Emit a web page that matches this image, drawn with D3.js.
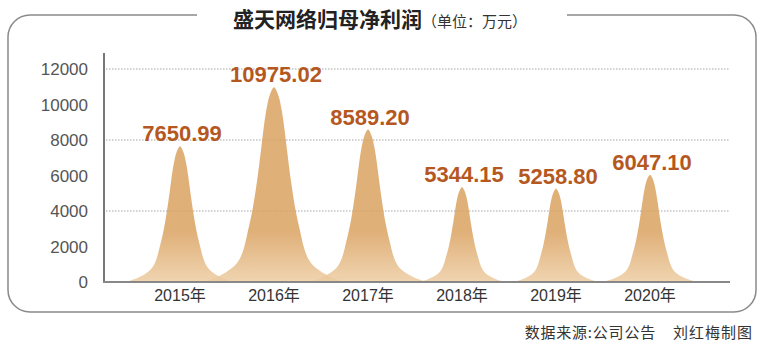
<!DOCTYPE html>
<html lang="zh">
<head>
    <meta charset="UTF-8">
    <title>盛天网络归母净利润</title>
    <script src="https://d3js.org/d3.v7.min.js"></script>
    <style>
        body { margin: 0; background: #fff; }
        svg { display: block; }
        text { font-family: "Liberation Sans", "Noto Sans CJK SC", sans-serif; }
        .cjk { font-family: "Noto Sans CJK SC", sans-serif; }
    </style>
</head>
<body>
<svg id="canvas" width="775" height="355"></svg>
<script>
// data
let years = ['2015年', '2016年', '2017年', '2018年', '2019年', '2020年']
let profits = [7650.99, 10975.02, 8589.20, 5344.15, 5258.80, 6047.10]
let profitLabels = ['7650.99', '10975.02', '8589.20', '5344.15', '5258.80', '6047.10']
let yTicks = [0, 2000, 4000, 6000, 8000, 10000, 12000]
let gridTicks = [4000, 8000, 12000]

let svg = d3.select('#canvas')

let y = d3.scaleLinear().domain([0, 12000]).range([282, 69])
let x = d3.scalePoint().domain(years).range([180, 650])
// half width of the peak base grows with the value
let halfW = d3.scaleLinear().domain([0, 12000]).range([18, 75.5])

// left half of the peak outline, normalised (u = -1..0, v = 0..1)
let peakShape = [[-1, 0], [-0.78, 0.03], [-0.6, 0.07], [-0.5, 0.11], [-0.43, 0.17],
    [-0.37, 0.26], [-0.3, 0.38], [-0.24, 0.52], [-0.19, 0.66], [-0.15, 0.78],
    [-0.11, 0.88], [-0.06, 0.96], [0, 1]]

let line = d3.line().curve(d3.curveCatmullRom.alpha(0.5))

let peakPath = (cx, value) => {
    let h = y(0) - y(value)
    let w = halfW(value)
    let left = peakShape.map(p => [cx + p[0] * w, y(0) - p[1] * h])
    let right = peakShape.slice(0, -1).reverse().map(p => [cx - p[0] * w, y(0) - p[1] * h])
    return line(left.concat(right)) + 'Z'
}

// frame with a gap for the title
svg.append('path')
   .attr('d', 'M197,15 H30 A22,22 0 0 0 8,37 V290 A22,22 0 0 0 30,312 H734 A22,22 0 0 0 756,290 V37 A22,22 0 0 0 734,15 H567')
   .attr('fill', 'none')
   .attr('stroke', '#8a8a8a')
   .attr('stroke-width', 1.5)

let title = svg.append('text')
   .attr('class', 'cjk')
   .attr('x', 233)
   .attr('y', 27)
   .attr('fill', '#222')
title.append('tspan')
   .attr('font-size', 21)
   .attr('font-weight', 'bold')
   .text('盛天网络归母净利润')
title.append('tspan')
   .attr('font-size', 15)
   .attr('fill', '#333')
   .text('（单位：万元）')

// gradient
let grad = svg.append('defs').append('linearGradient')
   .attr('id', 'peakFill')
   .attr('gradientUnits', 'userSpaceOnUse')
   .attr('x1', 0).attr('y1', y(0))
   .attr('x2', 0).attr('y2', y(0) - 50)
grad.append('stop').attr('offset', '0%').attr('stop-color', '#EDCDA3')
grad.append('stop').attr('offset', '100%').attr('stop-color', '#DAA261')

// dotted gridlines
svg.selectAll('.grid')
   .data(gridTicks)
   .enter()
   .append('line')
   .attr('class', 'grid')
   .attr('x1', 106).attr('x2', 730)
   .attr('y1', d => y(d)).attr('y2', d => y(d))
   .attr('stroke', '#a5a5a5')
   .attr('stroke-width', 1)
   .attr('stroke-dasharray', '1.5,1.5')

// y tick labels
svg.selectAll('.ytick')
   .data(yTicks)
   .enter()
   .append('text')
   .attr('class', 'ytick')
   .attr('x', 88)
   .attr('y', d => y(d))
   .attr('dy', '0.36em')
   .attr('text-anchor', 'end')
   .attr('font-size', 17)
   .attr('fill', '#555')
   .text(d => d)

// peaks
svg.selectAll('.peak')
   .data(profits)
   .enter()
   .append('path')
   .attr('class', 'peak')
   .attr('d', (d, i) => peakPath(x(years[i]), d))
   .attr('fill', 'url(#peakFill)')
   .attr('fill-opacity', 0.85)

// axes lines
svg.append('line')
   .attr('x1', 104).attr('x2', 104)
   .attr('y1', 53).attr('y2', y(0) + 1)
   .attr('stroke', '#777')
   .attr('stroke-width', 2)
svg.append('line')
   .attr('x1', 103).attr('x2', 730)
   .attr('y1', y(0)).attr('y2', y(0))
   .attr('stroke', '#888')
   .attr('stroke-width', 2)

// value labels
svg.selectAll('.val')
   .data(profits)
   .enter()
   .append('text')
   .attr('class', 'val')
   .attr('x', (d, i) => x(years[i]) + 2)
   .attr('y', d => y(d) - 5)
   .attr('text-anchor', 'middle')
   .attr('font-size', 22)
   .attr('font-weight', 'bold')
   .attr('fill', '#B5581F')
   .text((d, i) => profitLabels[i])

// x labels
svg.selectAll('.xlab')
   .data(years)
   .enter()
   .append('text')
   .attr('class', 'xlab')
   .attr('x', d => x(d))
   .attr('y', 301)
   .attr('text-anchor', 'middle')
   .attr('font-size', 16)
   .attr('fill', '#333')
   .text(d => d)

// source
svg.append('text')
   .attr('class', 'cjk')
   .attr('x', 656).attr('y', 338)
   .attr('text-anchor', 'end')
   .attr('font-size', 15)
   .attr('letter-spacing', 0.8)
   .attr('fill', '#333')
   .text('数据来源:公司公告')
svg.append('text')
   .attr('class', 'cjk')
   .attr('x', 673).attr('y', 338)
   .attr('font-size', 15)
   .attr('letter-spacing', 1)
   .attr('fill', '#333')
   .text('刘红梅制图')
</script>
</body>
</html>
